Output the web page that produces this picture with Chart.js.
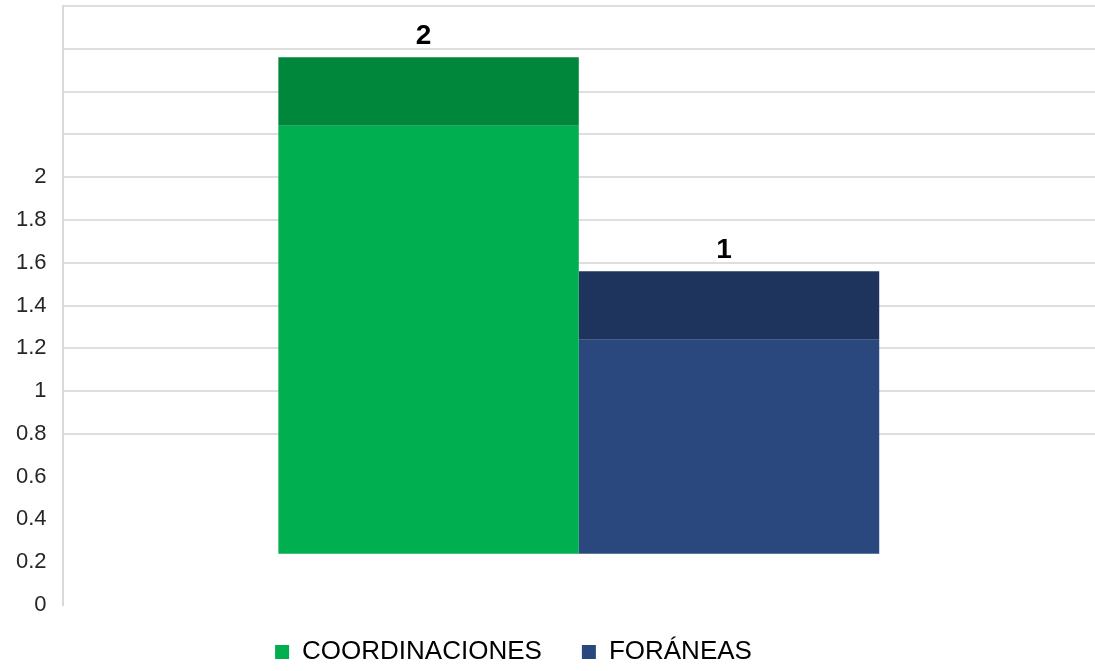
<!DOCTYPE html>
<html lang="es">
<head>
<meta charset="UTF-8">
<title>Coordinaciones y Foráneas</title>
<script src="https://cdn.jsdelivr.net/npm/chart.js@4/dist/chart.umd.min.js"></script>
</head>
<body style="margin:0; background:#ffffff;">
<div style="width:1095px; height:671px; position:relative;">
    <canvas id="grafica"></canvas>
</div>
<script>
// datos
const categorias = [''];
const series = ['COORDINACIONES', 'FORÁNEAS'];
const valores = [2, 1];
const colores = ['#00b050', '#2a487e'];
const coloresTapa = ['#00873b', '#1e345c'];
const yTicks = [0, 0.2, 0.4, 0.6, 0.8, 1, 1.2, 1.4, 1.6, 1.8, 2];

// efecto 3D de Excel: la cara frontal se levanta y lleva una tapa encima
const fondo = 0.24;
const tapa = 0.32;

const datasets = [];
series.forEach((nombre, i) => {
    datasets.push({
        label: nombre,
        stack: 's' + i,
        data: [[fondo, valores[i] + fondo]],
        backgroundColor: colores[i],
        borderWidth: 0
    });
    datasets.push({
        label: nombre + ' tapa',
        stack: 's' + i,
        esTapa: true,
        valor: valores[i],
        data: [[valores[i] + fondo, valores[i] + fondo + tapa]],
        backgroundColor: coloresTapa[i],
        borderWidth: 0
    });
});

// etiquetas de valor encima de cada barra
const etiquetas = {
    id: 'etiquetas',
    afterLayout(chart) {
        // la leyenda del original no esta centrada, va un poco a la izquierda y arriba
        chart.legend.right -= 68;
        chart.legend.top -= 6;
    },
    afterDatasetsDraw(chart) {
        const ctx = chart.ctx;
        ctx.save();
        ctx.font = 'bold 28px "Liberation Sans", Arial, sans-serif';
        ctx.fillStyle = '#000000';
        ctx.textAlign = 'center';
        ctx.textBaseline = 'middle';
        chart.data.datasets.forEach((ds, i) => {
            if (!ds.esTapa) return;
            const bar = chart.getDatasetMeta(i).data[0];
            ctx.fillText(String(ds.valor), bar.x - 5, bar.y - 21);
        });
        ctx.restore();
    }
};

new Chart(document.getElementById('grafica'), {
    type: 'bar',
    data: { labels: categorias, datasets: datasets },
    plugins: [etiquetas],
    options: {
        responsive: true,
        maintainAspectRatio: false,
        animation: false,
        layout: { padding: { left: 0, right: 0, top: 6, bottom: 2 } },
        datasets: { bar: { categoryPercentage: 0.582, barPercentage: 1 } },
        plugins: {
            tooltip: { enabled: false },
            legend: {
                position: 'bottom',
                maxHeight: 64,
                labels: {
                    filter: item => !item.text.endsWith(' tapa'),
                    boxWidth: 14,
                    boxHeight: 14,
                    padding: 40,
                    color: '#000000',
                    font: { family: '"Liberation Sans", Arial, sans-serif', size: 26, lineHeight: 0.5 }
                }
            }
        },
        scales: {
            x: { display: false },
            y: {
                stacked: false,
                min: 0,
                max: 2.8,
                afterBuildTicks: axis => {
                    const extra = [2.2, 2.4, 2.6, 2.8];
                    axis.ticks = yTicks.concat(extra).map(v => ({ value: v }));
                },
                afterFit: axis => {
                    axis.paddingTop = 0;
                    axis.paddingBottom = 0;
                },
                ticks: {
                    padding: 16,
                    color: '#262626',
                    font: { family: '"Liberation Sans", Arial, sans-serif', size: 22 },
                    callback: v => (yTicks.includes(v) ? String(v) : '')
                },
                grid: {
                    drawTicks: false,
                    lineWidth: 2,
                    color: c => (c.tick && c.tick.value >= 0.79 ? '#dedede' : 'rgba(0,0,0,0)')
                },
                border: { color: '#d9d9d9', width: 2 }
            }
        }
    }
});
</script>
</body>
</html>
